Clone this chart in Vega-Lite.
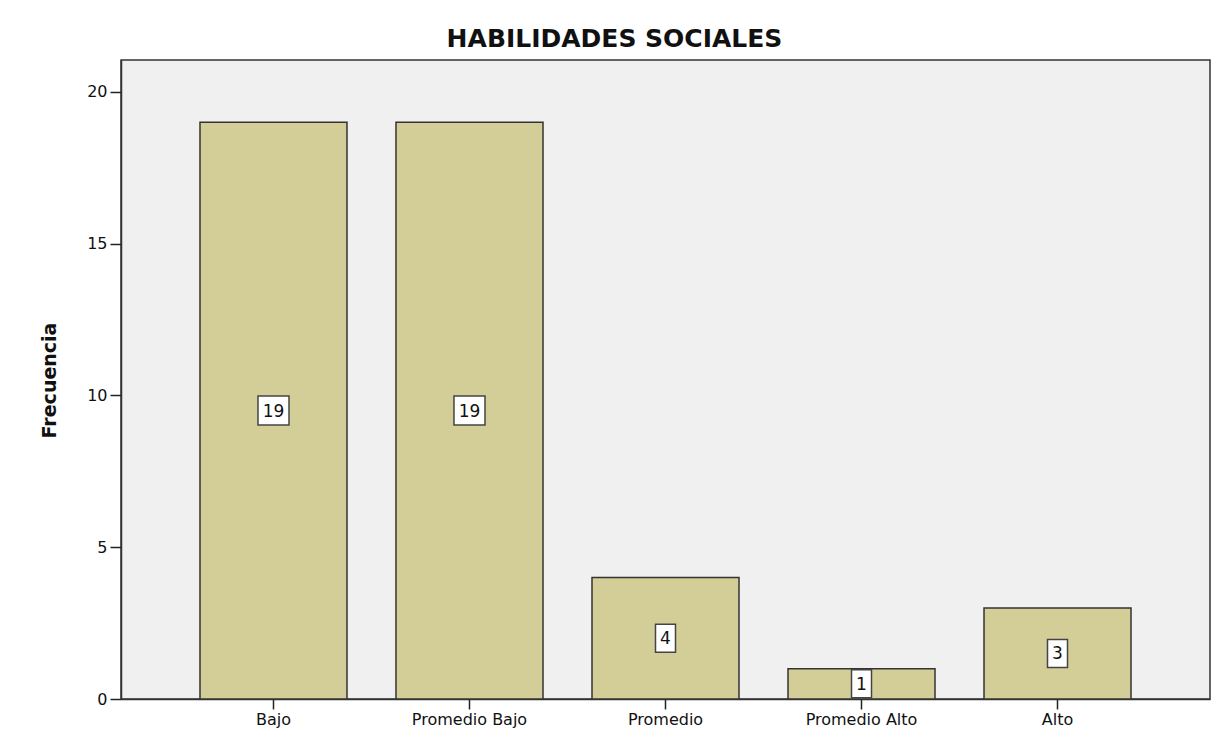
{
  "$schema": "https://vega.github.io/schema/vega-lite/v6.json",
  "width": 1089,
  "height": 639,
  "autosize": {"type": "none"},
  "padding": {"left": 121, "top": 60, "right": 11, "bottom": 43},
  "background": "white",
  "title": {
    "text": "HABILIDADES SOCIALES",
    "font": "DejaVu Sans",
    "fontSize": 25,
    "fontWeight": "bold",
    "color": "#111111",
    "anchor": "middle",
    "frame": "group",
    "dx": -51,
    "offset": 8
  },
  "data": {
    "values": [
      {"Categoria": "Bajo", "Frecuencia": 19},
      {"Categoria": "Promedio Bajo", "Frecuencia": 19},
      {"Categoria": "Promedio", "Frecuencia": 4},
      {"Categoria": "Promedio Alto", "Frecuencia": 1},
      {"Categoria": "Alto", "Frecuencia": 3}
    ]
  },
  "encoding": {
    "x": {
      "field": "Categoria",
      "type": "nominal",
      "sort": null,
      "scale": {"paddingInner": 0.25, "paddingOuter": 0.403},
      "axis": {
        "title": null,
        "labelAngle": 0,
        "labelFont": "DejaVu Sans",
        "labelFontSize": 16,
        "labelColor": "#111111",
        "labelPadding": 2,
        "tickSize": 10,
        "tickColor": "#222222",
        "tickWidth": 1.5,
        "domainColor": "#333333",
        "domainWidth": 1.5,
        "grid": false
      }
    }
  },
  "layer": [
    {
      "mark": {"type": "bar", "fill": "#D3CE98", "stroke": "#333333", "strokeWidth": 1.5},
      "encoding": {
        "y": {
          "field": "Frecuencia",
          "type": "quantitative",
          "scale": {"domain": [0, 21.05], "nice": false},
          "axis": {
            "title": "Frecuencia",
            "titleFont": "DejaVu Sans",
            "titleFontSize": 19,
            "titleFontWeight": "bold",
            "titleColor": "#111111",
            "titleX": -62,
            "titleY": 320,
            "titleAngle": 270,
            "titleAlign": "center",
            "titleBaseline": "bottom",
            "values": [0, 5, 10, 15, 20],
            "labelFont": "DejaVu Sans",
            "labelFontSize": 16,
            "labelColor": "#111111",
            "labelPadding": 3,
            "tickSize": 11,
            "tickColor": "#222222",
            "tickWidth": 1.5,
            "domainColor": "#333333",
            "domainWidth": 1.5,
            "grid": false
          }
        }
      }
    },
    {
      "mark": {"type": "point", "filled": true, "fill": "white", "stroke": "#444444", "strokeWidth": 1.5, "opacity": 1, "size": 961},
      "encoding": {
        "y": {
          "field": "Frecuencia",
          "type": "quantitative",
          "scale": {"domain": [0, 42.1], "nice": false},
          "axis": null
        },
        "shape": {
          "field": "Frecuencia",
          "type": "ordinal",
          "scale": {
            "domain": [1, 3, 4, 19],
            "range": [
              "M-0.645,-0.9H0.645V0.9H-0.645Z",
              "M-0.645,-0.9H0.645V0.9H-0.645Z",
              "M-0.645,-0.9H0.645V0.9H-0.645Z",
              "M-1,-0.935H1V0.935H-1Z"
            ]
          },
          "legend": null
        }
      }
    },
    {
      "mark": {"type": "text", "font": "DejaVu Sans", "fontSize": 17, "color": "#111111", "align": "center", "baseline": "middle", "dy": 1},
      "encoding": {
        "y": {
          "field": "Frecuencia",
          "type": "quantitative",
          "scale": {"domain": [0, 42.1], "nice": false},
          "axis": null
        },
        "text": {"field": "Frecuencia", "type": "quantitative"}
      }
    }
  ],
  "resolve": {"scale": {"y": "independent"}},
  "config": {
    "view": {"fill": "#F0F0F0", "stroke": "#333333", "strokeWidth": 1.5}
  }
}
